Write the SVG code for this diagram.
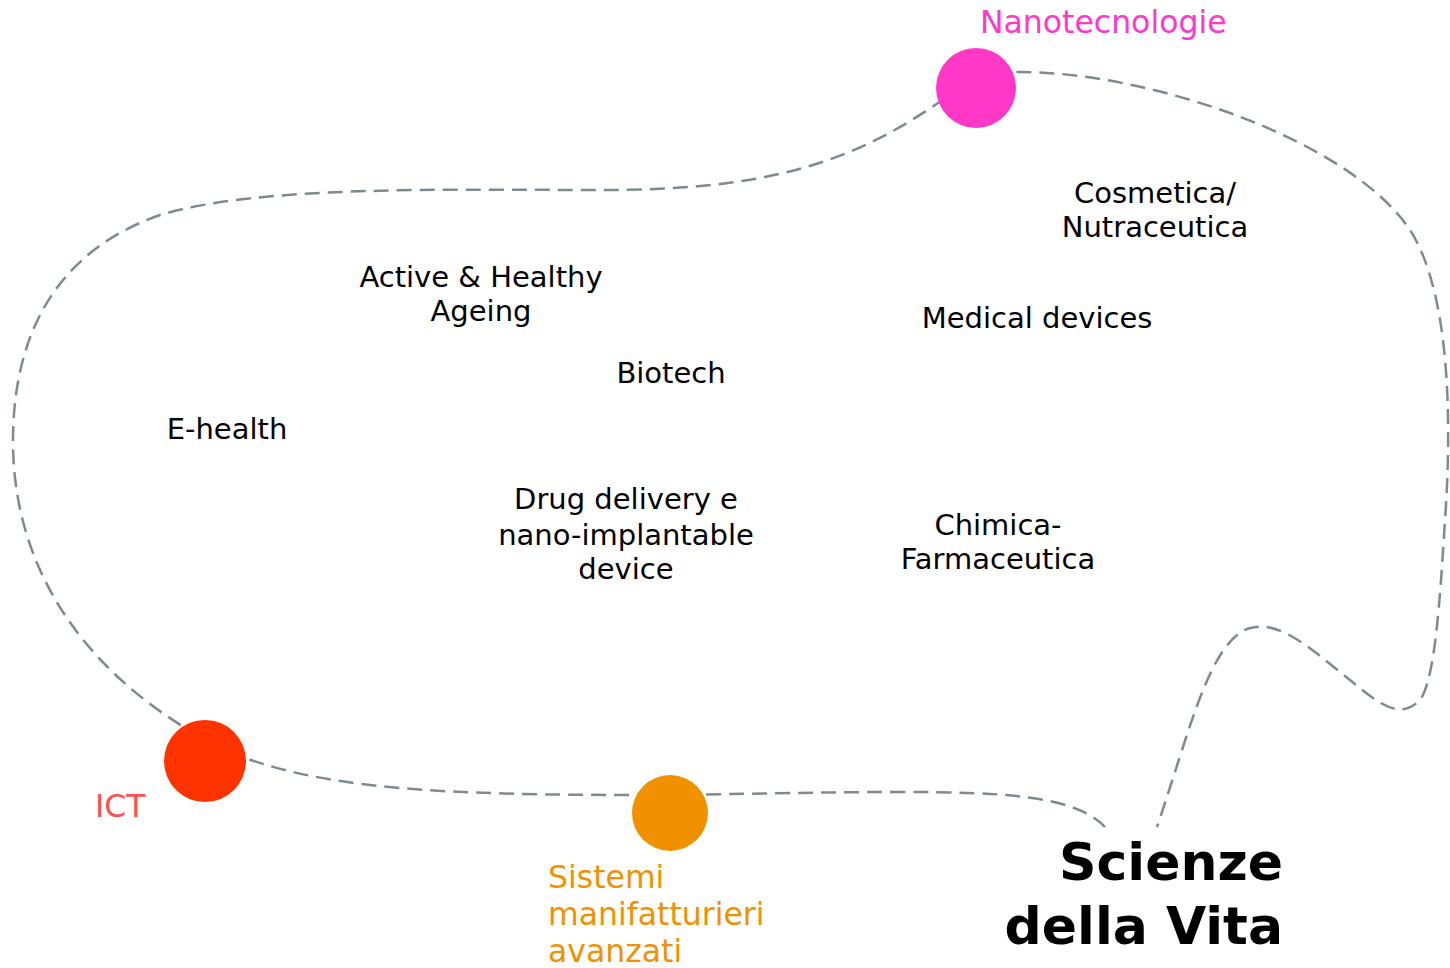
<svg xmlns="http://www.w3.org/2000/svg" width="1450" height="968" viewBox="0 0 1450 968">
<style>
.lbl{font-family:"DejaVu Sans",Verdana,sans-serif;font-size:29px;fill:#000;text-anchor:middle}
.cat{font-family:"DejaVu Sans",Verdana,sans-serif;font-size:31.5px}
.ttl{font-family:"DejaVu Sans",Verdana,sans-serif;font-size:52px;font-weight:bold;fill:#000;text-anchor:end}
.con{fill:none;stroke:#7f8a8f;stroke-width:2.5;stroke-dasharray:15 8}
</style>
<rect width="1450" height="968" fill="#fff"/>
<g id="connectors">
<path class="con" d="M 1105 827 C 1075 795, 1000 792, 900 792 C 800 792, 720 795, 640 795 C 450 795, 320 790, 230 752 C 120 700, 15 600, 13 445 C 12 330, 60 250, 160 215 C 260 185, 450 190, 600 190 C 750 190, 840 170, 935 105 C 960 88, 990 72, 1020 72 C 1150 72, 1350 140, 1410 230 C 1455 300, 1450 450, 1445 520 C 1440 600, 1435 680, 1420 700 C 1400 720, 1380 705, 1350 680 C 1310 648, 1280 620, 1250 628 C 1210 640, 1190 730, 1157 827"/>
</g>
<g id="nanotecnologie">
<circle cx="976" cy="88" r="40" fill="#ff38c8"/>
<text class="cat" x="980" y="33" fill="#ff38c8">Nanotecnologie</text>
</g>
<g id="ict">
<circle cx="205" cy="761" r="41" fill="#ff3300"/>
<text class="cat" x="95" y="817" fill="#ff4f4f">ICT</text>
</g>
<g id="sistemi">
<circle cx="670" cy="813" r="38" fill="#f29100"/>
<text class="cat" fill="#f29100"><tspan x="548" y="888">Sistemi</tspan><tspan x="548" y="925">manifatturieri</tspan><tspan x="548" y="962">avanzati</tspan></text>
</g>
<g id="scienze">
<text class="ttl"><tspan x="1283" y="880">Scienze</tspan><tspan x="1283" y="944">della Vita</tspan></text>
</g>
<g id="cosmetica"><text class="lbl"><tspan x="1155" y="203">Cosmetica/</tspan><tspan x="1155" y="237">Nutraceutica</tspan></text></g>
<g id="medical"><text class="lbl" x="1037" y="328">Medical devices</text></g>
<g id="aha"><text class="lbl"><tspan x="481" y="287">Active &amp; Healthy</tspan><tspan x="481" y="321">Ageing</tspan></text></g>
<g id="biotech"><text class="lbl" x="671" y="383">Biotech</text></g>
<g id="ehealth"><text class="lbl" x="227" y="439">E-health</text></g>
<g id="drug"><text class="lbl"><tspan x="626" y="509">Drug delivery e</tspan><tspan x="626" y="545">nano-implantable</tspan><tspan x="626" y="579">device</tspan></text></g>
<g id="chimica"><text class="lbl"><tspan x="998" y="535">Chimica-</tspan><tspan x="998" y="569">Farmaceutica</tspan></text></g>
</svg>
